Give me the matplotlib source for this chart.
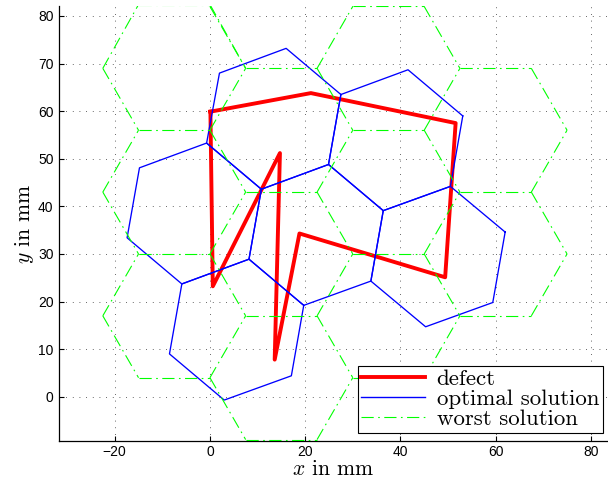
import matplotlib
matplotlib.use('Agg')
import matplotlib.pyplot as plt
from matplotlib.lines import Line2D

plt.rcParams['mathtext.fontset'] = 'cm'

# %% data (mm)
defect_x = [0.1, 21.2, 51.6, 49.4, 18.8, 13.6, 14.7, 0.6, 0.1]
defect_y = [59.9, 63.8, 57.5, 25.1, 34.3, 7.8, 51.2, 23.2, 59.9]

# optimal solution: six rotated hexagons, vertices in order
optimal_hexes = [
    [(10.8, 43.6), (-0.7, 53.3), (-14.8, 48.1), (-17.4, 33.4), (-5.9, 23.7), (8.2, 28.9)],
    [(27.5, 63.5), (16.0, 73.2), (2.0, 68.0), (-0.7, 53.3), (10.8, 43.6), (24.9, 48.8)],
    [(19.7, 19.2), (8.2, 28.9), (-5.9, 23.7), (-8.5, 9.0), (3.0, -0.7), (17.1, 4.4)],
    [(36.4, 39.1), (24.9, 48.8), (10.8, 43.6), (8.2, 28.9), (19.7, 19.2), (33.8, 24.3)],
    [(53.1, 59.0), (41.6, 68.7), (27.5, 63.5), (24.9, 48.8), (36.4, 39.1), (50.5, 44.2)],
    [(62.0, 34.6), (50.5, 44.2), (36.4, 39.1), (33.8, 24.3), (45.3, 14.7), (59.4, 19.8)],
]

# worst solution: regular flat-top hexagons
worst_hexes = [
    [(7.5, 69), (0, 82.4), (-15, 82.4), (-22.5, 69), (-15, 56), (0, 56)],
    [(7.5, 43), (0, 56), (-15, 56), (-22.5, 43), (-15, 30), (0, 30)],
    [(7.5, 17), (0, 30), (-15, 30), (-22.5, 17), (-15, 4), (0, 4)],
    [(30, 82), (22.5, 95), (7.5, 95), (0, 82), (7.5, 69), (22.5, 69)],
    [(30, 56), (22.5, 69), (7.5, 69), (0, 56), (7.5, 43), (22.5, 43)],
    [(30, 30), (22.5, 43), (7.5, 43), (0, 30), (7.5, 17), (22.5, 17)],
    [(30, 4), (22.5, 17), (7.5, 17), (0, 4), (7.5, -9), (22.5, -9)],
    [(52.5, 69), (45, 82), (30, 82), (22.5, 69), (30, 56), (45, 56)],
    [(52.5, 43), (45, 56), (30, 56), (22.5, 43), (30, 30), (45, 30)],
    [(52.5, 17), (45, 30), (30, 30), (22.5, 17), (30, 4), (45, 4)],
    [(75, 56), (67.5, 69), (52.5, 69), (45, 56), (52.5, 43), (67.5, 43)],
    [(75, 30), (67.5, 43), (52.5, 43), (45, 30), (52.5, 17), (67.5, 17)],
]

x_ticks = [-20, 0, 20, 40, 60, 80]
y_ticks = [0, 10, 20, 30, 40, 50, 60, 70, 80]

RED = '#ff0000'
BLUE = '#0000ff'
GREEN = '#00ff00'
GREEN_DASH = [11, 4, 1.5, 4]


def closed(poly):
    xs = [p[0] for p in poly] + [poly[0][0]]
    ys = [p[1] for p in poly] + [poly[0][1]]
    return xs, ys


def edges(polys):
    '''unique edges of a set of polygons, so shared edges keep their dashes'''
    seen = []
    for poly in polys:
        for i in range(len(poly)):
            e = tuple(sorted([poly[i], poly[(i + 1) % len(poly)]]))
            if e not in seen:
                seen.append(e)
    return seen


# %%
fig = plt.figure(figsize=(6.08, 4.9), dpi=100)
ax = fig.add_axes([59/608, 49/490, 549/608, 435/490])

ax.plot(defect_x, defect_y, color=RED, lw=2.8, zorder=3)

for h in optimal_hexes:
    xs, ys = closed(h)
    ax.plot(xs, ys, color=BLUE, lw=0.95, zorder=4)

for p, q in edges(worst_hexes):
    ax.plot([p[0], q[0]], [p[1], q[1]], color=GREEN, lw=0.8,
            dashes=GREEN_DASH, zorder=5)

ax.set_xlim(-31.7, 83.6)
ax.set_ylim(-9.3, 82.1)
ax.set_xticks(x_ticks)
ax.set_yticks(y_ticks)

ax.grid(True, color='0.2', lw=0.6, linestyle=(0, (1, 7)))
ax.set_axisbelow(True)
for s in ['top', 'right']:
    ax.spines[s].set_visible(False)
for s in ['left', 'bottom']:
    ax.spines[s].set_linewidth(0.9)
ax.tick_params(direction='in', length=3.5, width=0.8, labelsize=10)
ax.tick_params(axis='x', pad=3)
ax.tick_params(axis='y', pad=4)
for lab in ax.get_xticklabels() + ax.get_yticklabels():
    lab.set_family('Liberation Sans')

ax.set_xlabel(r'$x$ in mm', family='cmr10', fontsize=15.5, labelpad=0)
ax.set_ylabel(r'$y$ in mm', family='cmr10', fontsize=15.5, labelpad=1)

handles = [
    Line2D([], [], color=RED, lw=2.8),
    Line2D([], [], color=BLUE, lw=1.0),
    Line2D([], [], color=GREEN, lw=0.8, dashes=GREEN_DASH),
]
labels = ['defect', 'optimal solution', 'worst solution']
leg = ax.legend(handles, labels, loc='lower right', bbox_to_anchor=(0.99, 0.019),
                borderaxespad=0, prop={'family': 'cmr10', 'size': 16.5},
                fancybox=False, edgecolor='black', framealpha=1,
                handlelength=2.8, labelspacing=0.0, borderpad=0.15,
                handletextpad=0.5)
leg.get_frame().set_linewidth(0.8)

fig.savefig('out.png', dpi=100)
